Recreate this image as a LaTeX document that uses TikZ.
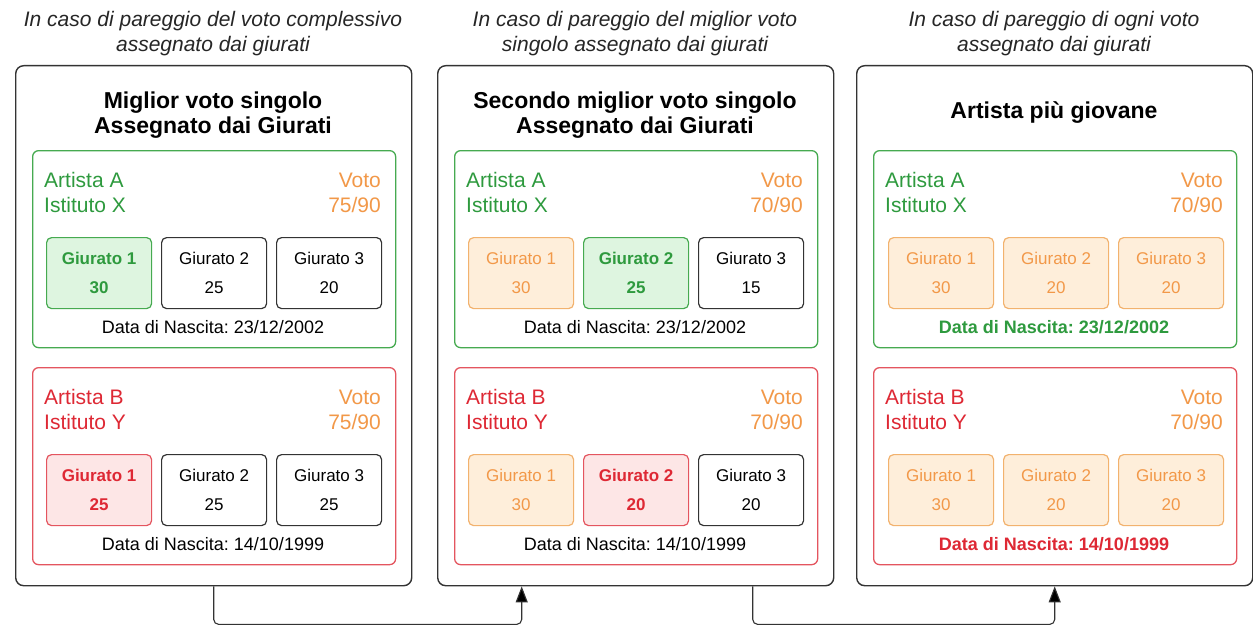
\documentclass[tikz,border=0pt]{standalone}
\usepackage{fontspec}
\setmainfont{Liberation Sans}
\usetikzlibrary{arrows.meta}
\definecolor{dk}{RGB}{51,51,51}
\definecolor{gtx}{RGB}{46,154,62}
\definecolor{gbd}{RGB}{70,170,80}
\definecolor{gfl}{RGB}{222,245,224}
\definecolor{rtx}{RGB}{222,40,52}
\definecolor{rbd}{RGB}{228,85,95}
\definecolor{rfl}{RGB}{253,230,230}
\definecolor{otx}{RGB}{242,152,72}
\definecolor{obd}{RGB}{242,178,110}
\definecolor{ofl}{RGB}{254,238,218}
\tikzset{
 panel/.style={draw=dk, line width=1.4pt, rounded corners=8pt, minimum width=396pt, minimum height=520pt, anchor=north west, inner sep=0pt},
 card/.style={line width=1.3pt, rounded corners=6pt, minimum width=363pt, minimum height=197pt, anchor=north west, inner sep=0pt},
 gcard/.style={card, draw=gbd},
 rcard/.style={card, draw=rbd},
 jur/.style={line width=1.2pt, rounded corners=5pt, minimum width=105pt, minimum height=71pt, anchor=north west, inner sep=0pt, align=center, font=\fontsize{17}{29}\selectfont},
 jk/.style={jur, draw=dk, text=black},
 jg/.style={jur, draw=gbd, fill=gfl, text=gtx, font=\fontsize{17}{29}\selectfont\bfseries},
 jr/.style={jur, draw=rbd, fill=rfl, text=rtx, font=\fontsize{17}{29}\selectfont\bfseries},
 jo/.style={jur, draw=obd, fill=ofl, text=otx},
 hdr/.style={font=\fontsize{21}{25}\selectfont\itshape, text=black!85, anchor=base, inner sep=0pt},
 ttl/.style={font=\fontsize{23}{27}\selectfont\bfseries, anchor=base, inner sep=0pt},
 art/.style={font=\fontsize{21}{25}\selectfont, anchor=base west, inner sep=0pt},
 vot/.style={font=\fontsize{21}{25}\selectfont, text=otx, anchor=base east, inner sep=0pt},
 dat/.style={font=\fontsize{18}{22}\selectfont, anchor=base, inner sep=0pt},
 datg/.style={dat, text=gtx, font=\fontsize{18}{22}\selectfont\bfseries},
 datr/.style={dat, text=rtx, font=\fontsize{18}{22}\selectfont\bfseries},
 conn/.style={draw=dk, line width=1.1pt, rounded corners=5pt, -{Triangle[length=16pt,width=12pt,fill=black]}},
}
\begin{document}
\frenchspacing
\begin{tikzpicture}[x=1pt,y=-1pt]
\fill[white] (0,0) rectangle (1253,626);
\useasboundingbox (0,0) rectangle (1253,626);
% ---------------- Panel 1
\node[panel] (p1) at (15,65) {};
\node[hdr] (h1a) at (213,27) {In caso di pareggio del voto complessivo};
\node[hdr] (h1b) at (213,52) {assegnato dai giurati};
\node[ttl] (t1a) at (213,108) {Miglior voto singolo};
\node[ttl] (t1b) at (213,133) {Assegnato dai Giurati};
\node[gcard] (c1a) at (32,150) {};
\node[art,text=gtx] (a1a) at (44,187) {Artista A};
\node[art,text=gtx] (i1a) at (44,212) {Istituto X};
\node[vot] (v1a) at (381,187) {Voto};
\node[vot] (s1a) at (381,212) {75/90};
\node[jg] (j1a1) at (46,237) {Giurato 1\\30};
\node[jk] (j1a2) at (161,237) {Giurato 2\\25};
\node[jk] (j1a3) at (276,237) {Giurato 3\\20};
\node[dat] (d1a) at (213,333) {Data di Nascita: 23/12/2002};
\node[rcard] (c1b) at (32,367) {};
\node[art,text=rtx] (a1b) at (44,404) {Artista B};
\node[art,text=rtx] (i1b) at (44,429) {Istituto Y};
\node[vot] (v1b) at (381,404) {Voto};
\node[vot] (s1b) at (381,429) {75/90};
\node[jr] (j1b1) at (46,454) {Giurato 1\\25};
\node[jk] (j1b2) at (161,454) {Giurato 2\\25};
\node[jk] (j1b3) at (276,454) {Giurato 3\\25};
\node[dat] (d1b) at (213,550) {Data di Nascita: 14/10/1999};
% ---------------- Panel 2
\node[panel] (p2) at (437,65) {};
\node[hdr] (h2a) at (635,27) {In caso di pareggio del miglior voto};
\node[hdr] (h2b) at (635,52) {singolo assegnato dai giurati};
\node[ttl] (t2a) at (635,108) {Secondo miglior voto singolo};
\node[ttl] (t2b) at (635,133) {Assegnato dai Giurati};
\node[gcard] (c2a) at (454,150) {};
\node[art,text=gtx] (a2a) at (466,187) {Artista A};
\node[art,text=gtx] (i2a) at (466,212) {Istituto X};
\node[vot] (v2a) at (803,187) {Voto};
\node[vot] (s2a) at (803,212) {70/90};
\node[jo] (j2a1) at (468,237) {Giurato 1\\30};
\node[jg] (j2a2) at (583,237) {Giurato 2\\25};
\node[jk] (j2a3) at (698,237) {Giurato 3\\15};
\node[dat] (d2a) at (635,333) {Data di Nascita: 23/12/2002};
\node[rcard] (c2b) at (454,367) {};
\node[art,text=rtx] (a2b) at (466,404) {Artista B};
\node[art,text=rtx] (i2b) at (466,429) {Istituto Y};
\node[vot] (v2b) at (803,404) {Voto};
\node[vot] (s2b) at (803,429) {70/90};
\node[jo] (j2b1) at (468,454) {Giurato 1\\30};
\node[jr] (j2b2) at (583,454) {Giurato 2\\20};
\node[jk] (j2b3) at (698,454) {Giurato 3\\20};
\node[dat] (d2b) at (635,550) {Data di Nascita: 14/10/1999};
% ---------------- Panel 3
\node[panel] (p3) at (856,65) {};
\node[hdr] (h3a) at (1054,27) {In caso di pareggio di ogni voto};
\node[hdr] (h3b) at (1054,52) {assegnato dai giurati};
\node[ttl] (t3a) at (1054,118) {Artista più giovane};
\node[gcard] (c3a) at (873,150) {};
\node[art,text=gtx] (a3a) at (885,187) {Artista A};
\node[art,text=gtx] (i3a) at (885,212) {Istituto X};
\node[vot] (v3a) at (1223,187) {Voto};
\node[vot] (s3a) at (1223,212) {70/90};
\node[jo] (j3a1) at (888,237) {Giurato 1\\30};
\node[jo] (j3a2) at (1003,237) {Giurato 2\\20};
\node[jo] (j3a3) at (1118,237) {Giurato 3\\20};
\node[datg] (d3a) at (1054,333) {Data di Nascita: 23/12/2002};
\node[rcard] (c3b) at (873,367) {};
\node[art,text=rtx] (a3b) at (885,404) {Artista B};
\node[art,text=rtx] (i3b) at (885,429) {Istituto Y};
\node[vot] (v3b) at (1223,404) {Voto};
\node[vot] (s3b) at (1223,429) {70/90};
\node[jo] (j3b1) at (888,454) {Giurato 1\\30};
\node[jo] (j3b2) at (1003,454) {Giurato 2\\20};
\node[jo] (j3b3) at (1118,454) {Giurato 3\\20};
\node[datr] (d3b) at (1054,550) {Data di Nascita: 14/10/1999};
% ---------------- Connectors
\draw[conn] (p1.south) -- ++(0,38) -| ([xshift=-114pt]p2.south);
\draw[conn] ([xshift=117pt]p2.south) -- ++(0,38) -| (p3.south);
\end{tikzpicture}
\end{document}
